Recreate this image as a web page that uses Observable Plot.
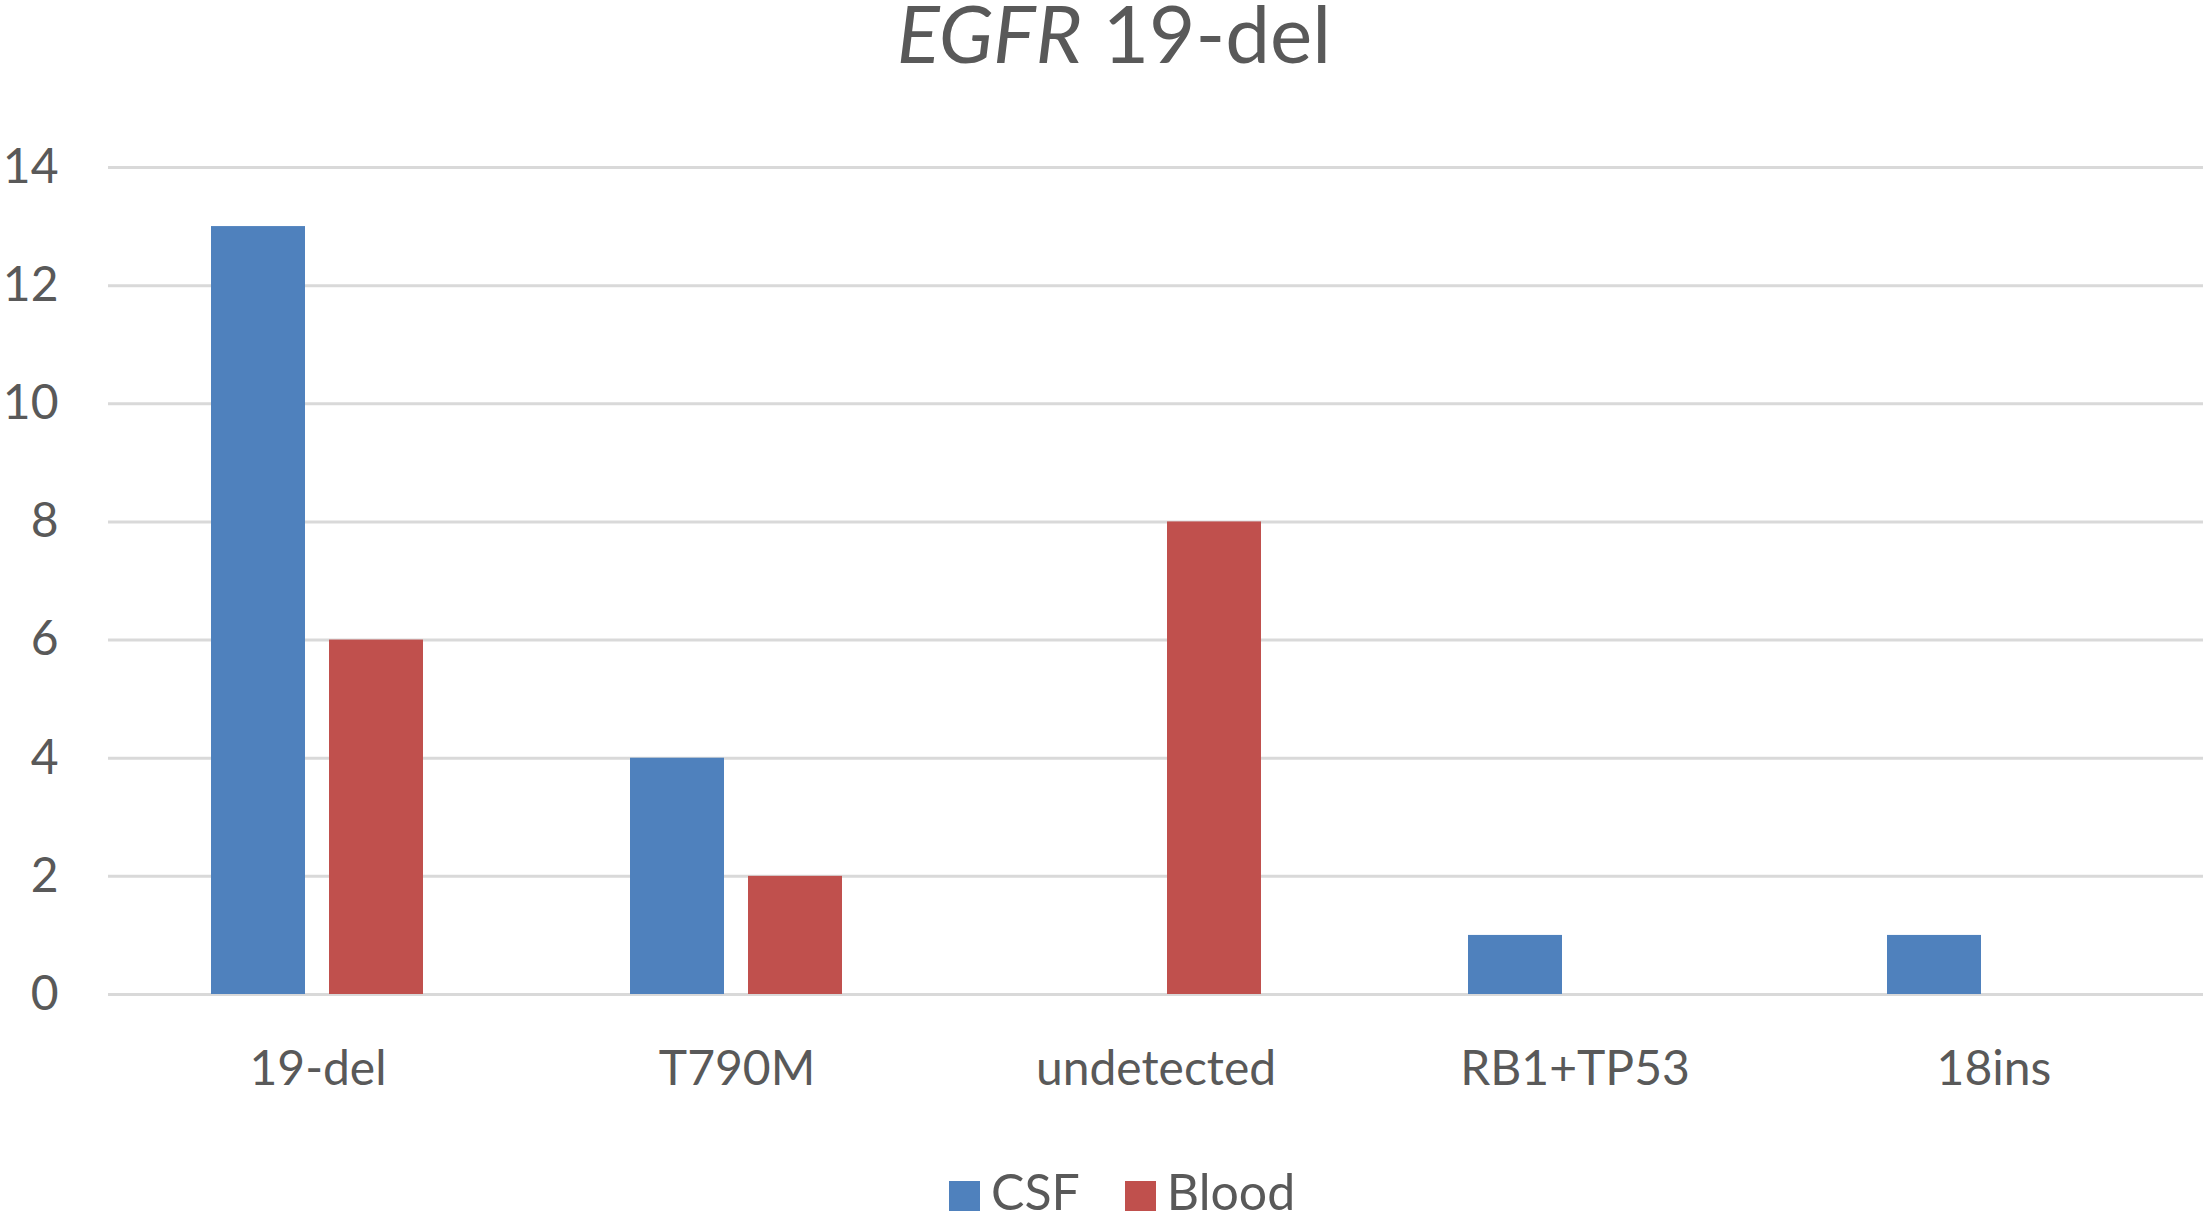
<!DOCTYPE html>
<html>
<head>
<meta charset="utf-8">
<script src="https://cdn.jsdelivr.net/npm/d3@7"></script>
<script src="https://cdn.jsdelivr.net/npm/@observablehq/plot@0.6"></script>
<style>
  html, body { margin: 0; padding: 0; background: #ffffff; }
  body { width: 2205px; height: 1216px; position: relative; overflow: hidden; font-family: Lato, "Open Sans", sans-serif; color: #595959; }
  #title { position: absolute; left: 0; width: 2228px; top: 0px; text-align: center; font-size: 80px; line-height: 0.8; white-space: nowrap; }
  #chart { position: absolute; left: 0; top: 100px; }
  #legend { position: absolute; left: 949px; top: 1166px; display: flex; align-items: center; font-size: 50px; line-height: 1; white-space: nowrap; }
  .sw { width: 31px; height: 30px; display: inline-block; margin-right: 11px; margin-top: 10px; }
  .item { display: flex; align-items: center; margin-right: 45px; }
</style>
</head>
<body>
<div id="title"><i>EGFR</i> 19-del</div>
<div id="chart"></div>
<div id="legend"></div>
<script>
const categories = ["19-del", "T790M", "undetected", "RB1+TP53", "18ins"];
const series = ["CSF", "Blood"];
const csfValues = [13, 4, 0, 1, 1];
const bloodValues = [6, 2, 8, 0, 0];
const yTicks = [0, 2, 4, 6, 8, 10, 12, 14];
const seriesColors = ["#4F81BD", "#C0504D"];

const data = categories.flatMap((c, i) => [
  {category: c, series: "CSF", value: csfValues[i]},
  {category: c, series: "Blood", value: bloodValues[i]}
]);

const chart = Plot.plot({
  width: 2205,
  height: 1030,
  marginTop: 67,
  marginBottom: 136,
  marginLeft: 108,
  marginRight: 2,
  style: {fontFamily: "Lato, 'Open Sans', sans-serif", fontSize: "48px", color: "#595959", background: "white"},
  fx: {domain: categories, padding: 0, label: null, tickSize: 0, tickPadding: 56},
  x: {domain: series, axis: null, paddingInner: 0.2, paddingOuter: 0.862},
  y: {domain: [0, 14], ticks: yTicks, label: null, tickSize: 0, tickPadding: 50},
  color: {domain: series, range: seriesColors},
  marks: [
    Plot.ruleY(yTicks, {stroke: "#d9d9d9", strokeWidth: 3}),
    Plot.barY(data, {fx: "category", x: "series", y: "value", fill: "series"})
  ]
});
document.getElementById("chart").appendChild(chart);

const legend = document.getElementById("legend");
series.forEach((s, i) => {
  const item = document.createElement("div");
  item.className = "item";
  const sw = document.createElement("span");
  sw.className = "sw";
  sw.style.background = seriesColors[i];
  const t = document.createElement("span");
  t.textContent = s;
  item.appendChild(sw);
  item.appendChild(t);
  legend.appendChild(item);
});
</script>
</body>
</html>
